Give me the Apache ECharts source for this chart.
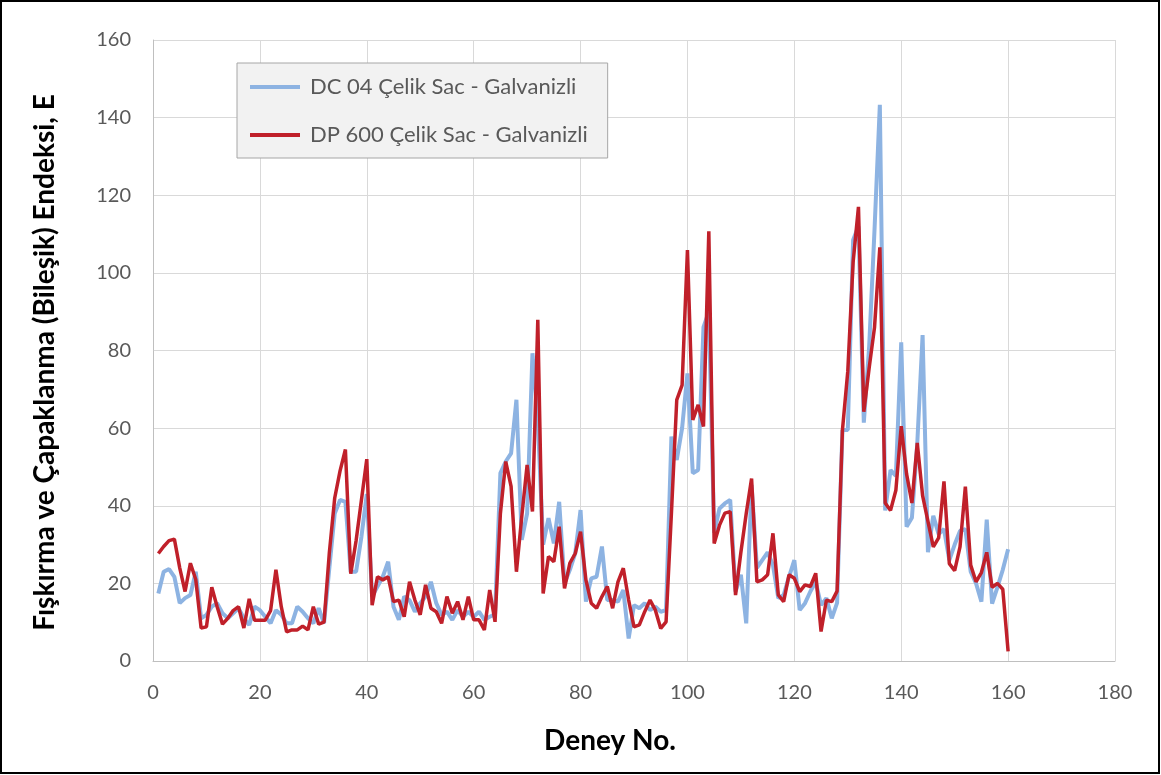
<!DOCTYPE html>
<html>
<head>
<meta charset="utf-8">
<script src="https://cdn.jsdelivr.net/npm/echarts@6/dist/echarts.min.js"></script>
<style>
html,body{margin:0;padding:0;background:#fff;}
#c{width:1161px;height:775px;}
</style>
</head>
<body>
<div id="c"></div>
<script>
// Deney No. 1..160
const seriesNames = ['DC 04 Çelik Sac - Galvanizli', 'DP 600 Çelik Sac - Galvanizli'];
const xTicks = [0, 20, 40, 60, 80, 100, 120, 140, 160, 180];
const yTicks = [0, 20, 40, 60, 80, 100, 120, 140, 160];

const dc04 = [
17.4,23,23.7,21.7,14.9,16.2,17,23,11,11.9,
14,14.9,12.3,11,12.3,13.6,11,9.3,14,13.1,
11.4,9.7,13.1,11.9,9.7,9.7,14,12.7,11,9.7,
13.6,9.7,24,38,41.5,41,23,23,32,43,
16.6,19.2,21.7,25.6,14,10.6,16.6,15.7,12.7,14.9,
16.6,20.4,14.9,11.9,12.7,10.6,13.1,11.4,12.7,11.4,
12.7,10.6,11.4,12,48.4,51.4,53.5,67.3,31.2,38,
79.3,62,30,36.8,30.3,41,20,23.5,27.7,38.9,
15.3,21.3,21.7,29.5,15.7,15.7,15.3,18.3,5.8,14.4,
13.6,14.9,13.1,14,12.7,13.1,57.8,51.8,60,74.1,
48.4,49.2,86,90,33,39.3,40.6,41.5,17.9,22.2,
9.7,45.4,24,26,28,24.7,16.2,17,21.7,26,
13.1,14.9,17.9,20.4,14.4,16.2,11,15,59.5,59.5,
108.5,112,61.4,81,111,143.3,38.8,49.2,47.7,82.1,
34.6,36.9,56,84,28,37.4,32.7,34,26,30,
33.5,34,23,20,15.3,36.4,14.8,19,23.5,28.8
];

const dp600 = [
27.7,29.5,31,31.4,24,17.9,25.2,21,8.5,8.8,
19,14,9.5,11,13,14,8.5,16,10.5,10.5,
10.5,13,23.5,14,7.5,8,8,9,8,14,
9.5,10,28,42,49,54.5,22.5,31,41.5,52,
14.4,21.7,20.9,21.7,15.3,15.7,11.4,20.4,15.7,11.9,
19.6,13.6,12.7,9.7,16.6,12.3,15.3,10.6,16.6,10.6,
10.6,8,18.3,10.1,38,51.4,45,23,37.2,50.5,
38.5,87.9,17.4,26.9,25.6,34.6,18.7,25.2,27.7,33.3,
20.9,14.9,13.6,16.6,19.2,13.6,20.4,23.9,15.7,8.8,
9.3,12.7,15.7,13.1,8.4,10.1,38,67.3,71.1,105.9,
62.1,66,60.4,110.7,30.3,35,38.1,38.5,17,28,
38,47,20.4,20.9,22.2,32.9,17,15.3,22.2,21.3,
17.9,19.6,19.2,22.6,7.6,15.7,15.3,18,59.5,74.6,
102.8,117,64.2,75.5,85.9,106.6,40.7,38.8,44,60.5,
48.2,40.7,56.2,42.6,36,29.4,31.7,46.3,25.1,23.3,
29.4,44.9,24.7,20.4,22.8,28,19,20,18.5,2.5
];

const FONT = 'Lato, "Liberation Sans", sans-serif';
const toPairs = arr => arr.map((v, i) => [i + 1, v]);

const chart = echarts.init(document.getElementById('c'), null, {renderer: 'canvas'});
chart.setOption({
  animation: false,
  backgroundColor: '#ffffff',
  grid: {left: 153, right: 46, top: 40, bottom: 114, containLabel: false},
  graphic: [{
    type: 'rect', silent: true, z: 100,
    shape: {x: 1, y: 1, width: 1158, height: 772},
    style: {fill: 'none', stroke: '#000', lineWidth: 2}
  }],
  legend: {
    left: 237, top: 63,
    orient: 'vertical',
    backgroundColor: '#f2f2f2',
    borderColor: '#a6a6a6', borderWidth: 1,
    padding: [11, 20, 10, 13],
    itemGap: 22,
    itemWidth: 50, itemHeight: 4,
    icon: 'rect',
    textStyle: {fontFamily: FONT, fontSize: 22, color: '#595959', lineHeight: 26, padding: [0, 0, 0, 5]},
    data: seriesNames
  },
  xAxis: {
    type: 'value', min: 0, max: 180, interval: 20,
    name: 'Deney No.', nameLocation: 'middle', nameGap: 66,
    nameTextStyle: {fontFamily: FONT, fontSize: 28, fontWeight: 'bold', color: '#000', padding: [0, 48, 0, 0]},
    axisLine: {show: true, lineStyle: {color: '#bfbfbf', width: 1}},
    axisTick: {show: false},
    axisLabel: {fontFamily: FONT, fontSize: 20, color: '#595959', margin: 22,
      formatter: v => xTicks.includes(v) ? String(v) : ''},
    splitLine: {show: true, lineStyle: {color: '#d9d9d9', width: 1}}
  },
  yAxis: {
    type: 'value', min: 0, max: 160, interval: 20,
    name: 'Fışkırma ve Çapaklanma (Bileşik) Endeksi, E', nameLocation: 'middle', nameGap: 94,
    nameTextStyle: {fontFamily: FONT, fontSize: 28, fontWeight: 'bold', color: '#000', padding: [0, 24, 0, 0]},
    axisLine: {show: true, lineStyle: {color: '#bfbfbf', width: 1}},
    axisTick: {show: false},
    axisLabel: {fontFamily: FONT, fontSize: 20, color: '#595959', margin: 22,
      formatter: v => yTicks.includes(v) ? String(v) : ''},
    splitLine: {show: true, lineStyle: {color: '#d9d9d9', width: 1}}
  },
  series: [
    {name: seriesNames[0], type: 'line', data: toPairs(dc04), symbol: 'none',
     lineStyle: {color: '#8db3e2', width: 4}, itemStyle: {color: '#8db3e2'}, z: 2},
    {name: seriesNames[1], type: 'line', data: toPairs(dp600), symbol: 'none',
     lineStyle: {color: '#c0202a', width: 3.5}, itemStyle: {color: '#c0202a'}, z: 3}
  ]
});
</script>
</body>
</html>
